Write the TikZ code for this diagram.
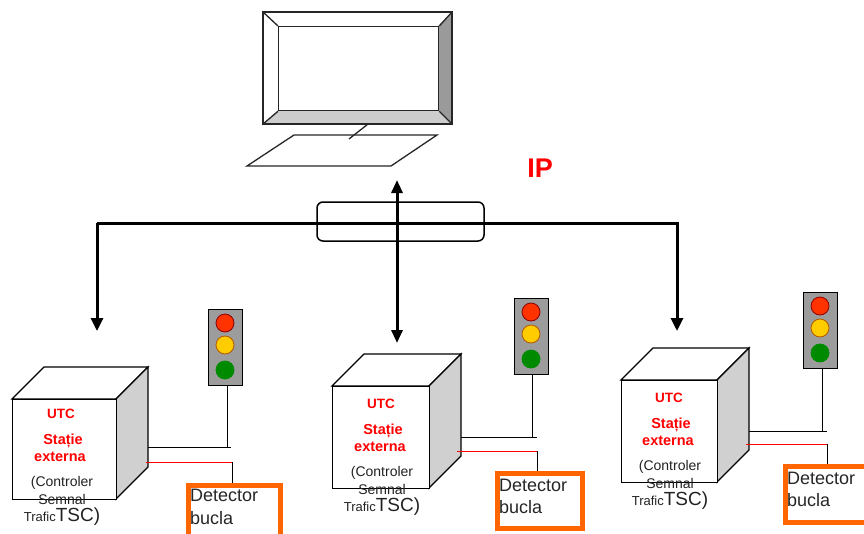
\documentclass[tikz,border=0pt]{standalone}
\usepackage{fontspec}
\setmainfont{Liberation Sans}
\usetikzlibrary{arrows.meta}
\definecolor{lampred}{HTML}{FF3300}
\definecolor{lampyellow}{HTML}{FFCC00}
\definecolor{lampgreen}{HTML}{008A00}
\definecolor{detorange}{HTML}{FF6600}
\definecolor{housing}{HTML}{9C9C9C}
\definecolor{sideface}{HTML}{D0D0D0}
\definecolor{bevelright}{HTML}{9A9A9A}
\definecolor{bevelbottom}{HTML}{CDCDCD}
\definecolor{labelred}{HTML}{FF0000}
\definecolor{notegray}{HTML}{222222}

% one controller cabinet: name, front x1, y1, x2, y2 (depth 32)
\newcommand\ctrlbox[5]{%
  \draw[cubeline, fill=white] (#2,#3) -- (#2+32,#3-32) -- (#4+32,#3-32) -- (#4,#3) -- cycle;
  \draw[cubeline, fill=sideface] (#4,#3) -- (#4+32,#3-32) -- (#4+32,#5-32) -- (#4,#5) -- cycle;
  \node[cubeline, draw, fill=white, inner sep=0pt, anchor=north west,
        minimum width=#4-#2, minimum height=#5-#3] (#1) at (#2,#3) {};
}
% one signal head: name, centre x, top y
\newcommand\signalhead[3]{%
  \node[lighthousing, anchor=north] (#1) at (#2,#3) {};
  \node[lamp, fill=lampred, draw=red!55!black] at (#2,#3+14) {};
  \node[lamp, fill=lampyellow, draw=orange!70!black] at (#2,#3+36) {};
  \node[lamp, fill=lampgreen, draw=lampgreen] at (#2,#3+61) {};
}
% cabinet labels: centre x, y of first line
\newcommand\cablabels[2]{%
  \node[utc] at (#1,#2) {UTC};
  \node[station] at (#1+2,#2+27) {Stație};
  \node[station] at (#1-1,#2+43) {externa};
  \node[note] at (#1+1,#2+69) {(Controler};
  \node[note] at (#1+1,#2+85) {Semnal};
  \node[note] at (#1+1,#2+103) {{\fontsize{13}{13}\selectfont Trafic}{\fontsize{19}{19}\selectfont TSC)}};
}

\begin{document}
\begin{tikzpicture}[x=1pt, y=-1pt,
  cubeline/.style={line width=1.3pt, draw=black},
  monline/.style={line width=1.3pt, draw=black!85},
  bus/.style={line width=3pt, draw=black},
  busarrow/.style={line width=3pt, draw=black, -{Triangle[length=13pt,width=12pt]}},
  busdouble/.style={line width=3pt, draw=black, {Triangle[length=13pt,width=11pt]}-{Triangle[length=13pt,width=11pt]}},
  wire/.style={line width=1pt, draw=black},
  redwire/.style={line width=1pt, draw=red},
  lighthousing/.style={draw=black, line width=1pt, fill=housing, minimum width=34pt, minimum height=76pt, inner sep=0pt},
  lamp/.style={circle, minimum size=18pt, inner sep=0pt, line width=0.8pt},
  detector/.style={draw=detorange, line width=4.5pt, fill=white, inner sep=0pt, anchor=north west},
  dettext/.style={font=\fontsize{18}{18}\selectfont, text=black!85, anchor=west, inner sep=0pt},
  utc/.style={font=\fontsize{13.5}{13.5}\selectfont\bfseries, text=labelred, inner sep=0pt},
  station/.style={font=\fontsize{14.5}{14.5}\selectfont\bfseries, text=labelred, inner sep=0pt},
  note/.style={font=\fontsize{14}{14}\selectfont, text=notegray, inner sep=0pt}
]
\clip (0,0) rectangle (864,533);
\useasboundingbox (0,0) rectangle (864,533);

% ---------- workstation ----------
\fill[white] (263,12) rectangle (452,124);
\fill[bevelright] (438,26) -- (452,12) -- (452,124) -- (438,110) -- cycle;
\fill[bevelbottom] (278,110) -- (438,110) -- (452,124) -- (263,124) -- cycle;
\draw[monline] (263,12) rectangle (452,124);
\node[monline, draw, inner sep=0pt, anchor=north west, minimum width=160pt, minimum height=84pt] (screen) at (278,26) {};
\draw[monline] (263,12) -- (screen.north west);
\draw[monline] (452,12) -- (screen.north east);
\draw[monline] (263,124) -- (screen.south west);
\draw[monline] (452,124) -- (screen.south east);
\draw[monline, fill=white] (294,135) -- (437,135) -- (391,166) -- (247,166) -- cycle;
\coordinate (standtop) at (368,124);
\coordinate (standfoot) at (349,139);
\draw[monline] (standtop) -- (standfoot);

\node[font=\fontsize{27}{27}\selectfont\bfseries, text=labelred, inner sep=0pt] (ip) at (540,168) {IP};

% ---------- network bus ----------
\node[draw, line width=1.5pt, rounded corners=6pt, minimum width=167pt, minimum height=39pt, inner sep=0pt] (ipbox) at (400.5,221.5) {};
\coordinate (busL) at (97,223);
\coordinate (busR) at (679,223);
\coordinate (busRdrop) at (677,223);
\coordinate (dropL) at (97,331);
\coordinate (dropR) at (677,331);
\coordinate (pcin) at (397,180);
\coordinate (dropM) at (397,343);
\draw[bus] (busL) -- (busR);
\draw[busarrow] (busL) -- (dropL);
\draw[busarrow] (busRdrop) -- (dropR);
\draw[busdouble] (dropM) -- (pcin);

% ---------- cabinets ----------
\ctrlbox{cabA}{12}{399}{116}{499}
\ctrlbox{cabB}{332}{386}{429}{488}
\ctrlbox{cabC}{621}{380}{717}{482}

\cablabels{61}{414}
\cablabels{381}{404}
\cablabels{669}{398}

% ---------- signal heads ----------
\signalhead{sigA}{225}{309}
\signalhead{sigB}{531}{298}
\signalhead{sigC}{820}{292}

% ---------- loop detectors ----------
\node[detector, minimum width=92pt, minimum height=60pt] (detA) at (186,483) {};
\node[dettext] at (190,495) {Detector};
\node[dettext] at (190,518) {bucla};
\node[detector, minimum width=85pt, minimum height=55pt] (detB) at (495,471) {};
\node[dettext] at (499,485) {Detector};
\node[dettext] at (499,507) {bucla};
\node[detector, minimum width=90pt, minimum height=56pt] (detC) at (783,464) {};
\node[dettext] at (787,478) {Detector};
\node[dettext] at (787,500) {bucla};

% ---------- wiring ----------
% cabinet A
\coordinate (jA) at (227,447);
\draw[wire] (sigA.south -| jA) -- (jA);
\draw[wire] (148,447) -- (231,447);
\coordinate (rA) at (232,462);
\draw[redwire] (146,462) -- (rA);
\draw[wire] (rA) -- (detA.north -| rA);
% cabinet B
\coordinate (jB) at (532,437);
\draw[wire] (sigB.south -| jB) -- (jB);
\draw[wire] (461,437) -- (537,437);
\coordinate (rB) at (537,451);
\draw[redwire] (457,451) -- (rB);
\draw[wire] (rB) -- (detB.north -| rB);
% cabinet C
\coordinate (jC) at (822,431);
\draw[wire] (sigC.south -| jC) -- (jC);
\draw[wire] (749,431) -- (827,431);
\coordinate (rC) at (827,444);
\draw[redwire] (746,444) -- (rC);
\draw[wire] (rC) -- (detC.north -| rC);
\end{tikzpicture}
\end{document}
